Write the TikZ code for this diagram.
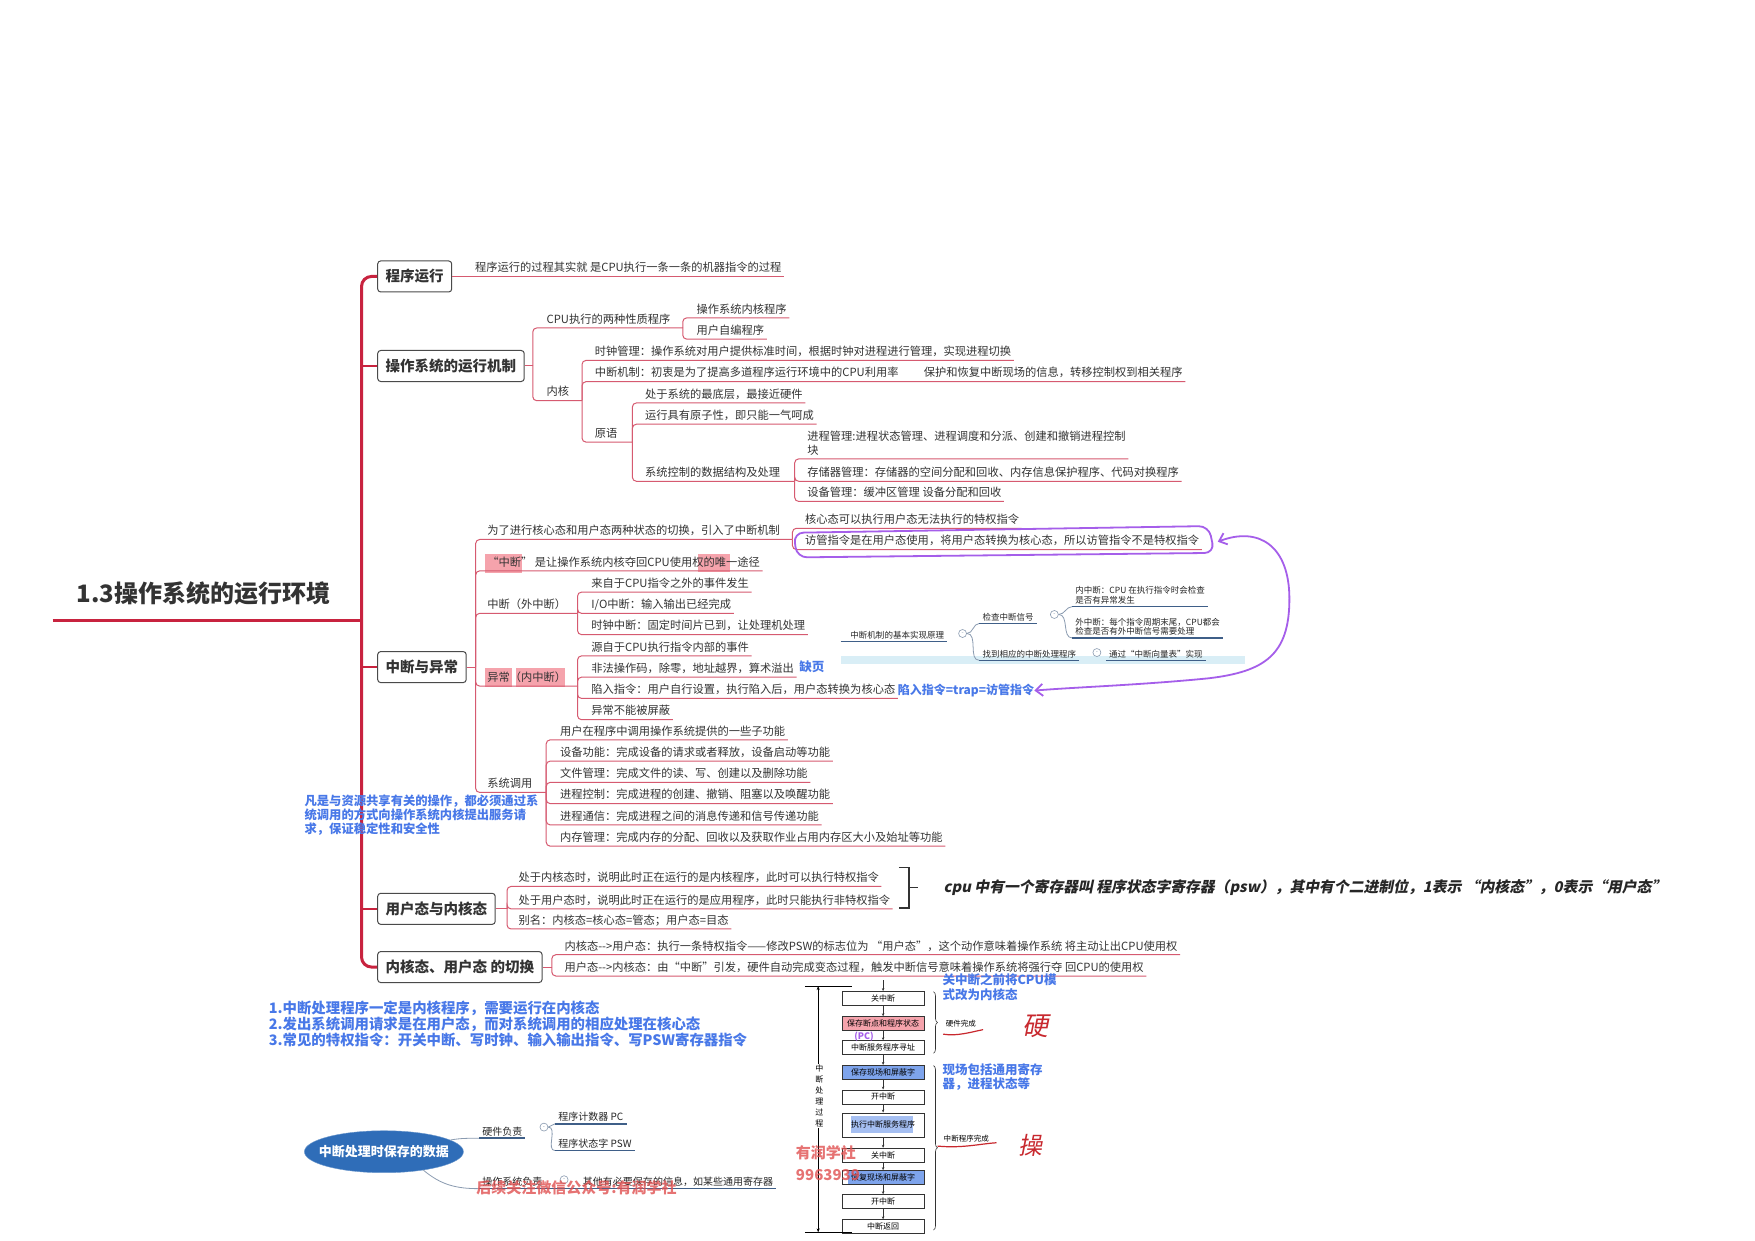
\documentclass[tikz,border=0pt]{standalone}
\usepackage{fontspec}
\setmainfont{Noto Sans CJK SC}
\newfontfamily\slantfont{Noto Sans CJK SC}[FakeSlant=0.2]
\usetikzlibrary{arrows.meta,shapes.geometric,decorations.pathreplacing}

\definecolor{spinered}{HTML}{C8233F}
\definecolor{twig}{HTML}{D65A70}
\definecolor{ink}{HTML}{333333}
\definecolor{boxline}{HTML}{4A4A4A}
\definecolor{noteblue}{HTML}{4878E8}
\definecolor{loopviolet}{HTML}{A55EEA}
\definecolor{hilite}{HTML}{F5A3AC}
\definecolor{xmline}{HTML}{3F5F88}
\definecolor{xmcurve}{HTML}{8A9BB0}
\definecolor{bubblefill}{HTML}{2F6DB8}
\definecolor{stampred}{HTML}{E05050}
\definecolor{handred}{HTML}{C8282E}
\definecolor{bluehl}{HTML}{7EA4EC}
\definecolor{cyanstrip}{HTML}{D9EEF6}

\begin{document}
\begin{tikzpicture}[x=1.119pt, y=-1.119pt, text=ink,
  topic/.style={draw=boxline, rounded corners=3pt, line width=1pt, minimum height=31pt,
    inner xsep=8pt, anchor=west, font=\fontsize{14.5}{16}\selectfont\bfseries},
  leaf/.style={anchor=south west, inner xsep=2.5pt, inner ysep=2.5pt, text depth=2pt,
    align=left, font=\fontsize{11.25}{13.5}\selectfont},
  trunk/.style={draw=spinered, line width=3pt},
  limb/.style={draw=spinered, line width=1.8pt},
  branch/.style={draw=twig, line width=1pt, rounded corners=4pt},
  note/.style={text=noteblue, inner sep=0pt, align=left, font=\fontsize{12.5}{14.5}\selectfont\bfseries},
  hl/.style={fill=hilite, draw=none},
  annot/.style={draw=loopviolet, line width=1.8pt, line cap=round, line join=round},
  xleaf/.style={anchor=south west, inner xsep=3pt, inner ysep=2pt, text depth=1pt, align=left,
    text=black!85, font=\fontsize{8.5}{9.5}\selectfont},
  xline/.style={draw=xmline, line width=1.6pt},
  xcurve/.style={draw=xmcurve, line width=.8pt},
  knob/.style={circle, draw=xmcurve, fill=white, line width=.6pt, minimum size=8pt, inner sep=0pt,
    text=xmcurve, font=\fontsize{6}{6}\selectfont},
  bubble/.style={ellipse, fill=bubblefill, draw=bubblefill!70, minimum width=159pt, minimum height=42pt,
    inner xsep=-9pt, inner ysep=0pt, text=white, font=\fontsize{13}{15}\selectfont\bfseries},
  flowbox/.style={draw=black!80, line width=.6pt, minimum width=82pt, minimum height=14pt, inner sep=0pt,
    text=black, font=\fontsize{8}{9}\selectfont},
  farrow/.style={-{Stealth[length=3pt,width=2.5pt]}, line width=.5pt, draw=black!80},
  brc/.style={decorate, decoration={brace, amplitude=4pt}, line width=.6pt, draw=black!80},
  stamp/.style={text=stampred, opacity=.8, align=left, font=\fontsize{15}{22}\selectfont\bfseries},
  handmark/.style={draw=handred, line width=1.2pt, line cap=round}
]
\useasboundingbox (0,0) rectangle (1568,1108);
\fill[white] (0,0) rectangle (1568,1108);

% root and main spine
\node[font=\fontsize{24}{26}\selectfont\bfseries] (root) at (182,530) {1.3操作系统的运行环境};
\coordinate (rootl) at (47,554);
\coordinate (hub) at (323,554);

\node[topic] (run) at (337,247) {程序运行};
\node[topic] (mech) at (337,327) {操作系统的运行机制};
\node[topic] (intr) at (337,596) {中断与异常};
\node[topic] (mode) at (337,812) {用户态与内核态};
\node[topic] (swit) at (337,864) {内核态、用户态 的切换};

\draw[trunk] (rootl) -- (hub);
\draw[trunk, rounded corners=10pt] (run.west) -| (hub) |- (swit.west);
\foreach \b in {mech,intr,mode}
  \draw[limb] (hub |- \b.west) -- (\b.west);

% program run
\node[leaf] (run1) at (422,247) {程序运行的过程其实就 是CPU执行一条一条的机器指令的过程};
\draw[branch] (run.east) -- (run1.south east);

% os mechanism
\coordinate (mechk) at (476,327);
\draw[branch] (mech.east) -- (mechk);
\node[leaf] (cpu) at (486,293) {CPU执行的两种性质程序};
\coordinate (cpuk) at (610,293);
\draw[branch] (mechk) |- (cpu.south west) -- (cpuk);
\node[leaf] (cpu1) at (620,284) {操作系统内核程序};
\node[leaf] (cpu2) at (620,303) {用户自编程序};
\foreach \n in {cpu1,cpu2}
  \draw[branch] (cpuk) |- (\n.south west) -- (\n.south east);

\node[leaf] (kern) at (486,358) {内核};
\coordinate (kernk) at (520,358);
\draw[branch] (mechk) |- (kern.south west) -- (kernk);
\node[leaf] (clk) at (529,322) {时钟管理：操作系统对用户提供标准时间，根据时钟对进程进行管理，实现进程切换};
\node[leaf] (irq) at (529,341) {中断机制：初衷是为了提高多道程序运行环境中的CPU利用率};
\node[leaf] (irq2) at (823,341) {保护和恢复中断现场的信息，转移控制权到相关程序};
\node[leaf] (prim) at (529,395) {原语};
\coordinate (primk) at (565,395);
\draw[branch] (kernk) |- (clk.south west) -- (clk.south east);
\draw[branch] (kernk) |- (irq.south west) -- (irq2.south east);
\draw[branch] (kernk) |- (prim.south west) -- (primk);

\node[leaf] (low) at (574,360) {处于系统的最底层，最接近硬件};
\node[leaf] (atom) at (574,379) {运行具有原子性，即只能一气呵成};
\node[leaf] (sysd) at (574,430) {系统控制的数据结构及处理};
\coordinate (sysk) at (710,430);
\foreach \n in {low,atom}
  \draw[branch] (primk) |- (\n.south west) -- (\n.south east);
\draw[branch] (primk) |- (sysd.south west) -- (sysk);

\node[leaf] (pm) at (719,410) {进程管理:进程状态管理、进程调度和分派、创建和撤销进程控制\\块};
\node[leaf] (mem) at (719,430) {存储器管理：存储器的空间分配和回收、内存信息保护程序、代码对换程序};
\node[leaf] (dev) at (719,448) {设备管理：缓冲区管理 设备分配和回收};
\foreach \n in {pm,mem,dev}
  \draw[branch] (sysk) |- (\n.south west) -- (\n.south east);

% interrupts and exceptions
\fill[hl] (433,495) rectangle (466,512);
\fill[hl] (624,495) rectangle (652,511);
\fill[hl] (433,597) rectangle (457,614);
\fill[hl] (461,597) rectangle (505,614);

\coordinate (intrk) at (425,596);
\draw[branch] (intr.east) -- (intrk);
\node[leaf] (sw) at (433,482) {为了进行核心态和用户态两种状态的切换，引入了中断机制};
\coordinate (swk) at (708,482);
\draw[branch] (intrk) |- (sw.south west) -- (swk);
\node[leaf] (priv) at (717,472) {核心态可以执行用户态无法执行的特权指令};
\node[leaf] (svc) at (717,491) {访管指令是在用户态使用，将用户态转换为核心态，所以访管指令不是特权指令};
\foreach \n in {priv,svc}
  \draw[branch] (swk) |- (\n.south west) -- (\n.south east);

\node[leaf] (only) at (433,510) {“中断” 是让操作系统内核夺回CPU使用权的唯一途径};
\draw[branch] (intrk) |- (only.south west) -- (only.south east);

\node[leaf] (ext) at (433,548) {中断（外中断）};
\coordinate (extk) at (516,548);
\draw[branch] (intrk) |- (ext.south west) -- (extk);
\foreach \y/\t [count=\i] in {529/{来自于CPU指令之外的事件发生},
    548/{I/O中断：输入输出已经完成},
    567/{时钟中断：固定时间片已到，让处理机处理}}{
  \node[leaf] (ext\i) at (526,\y) {\t};
  \draw[branch] (extk) |- (ext\i.south west) -- (ext\i.south east);
}

\node[leaf] (exc) at (433,613) {异常（内中断）};
\coordinate (exck) at (516,613);
\draw[branch] (intrk) |- (exc.south west) -- (exck);
\foreach \y/\t [count=\i] in {586/{源自于CPU执行指令内部的事件},
    605/{非法操作码，除零，地址越界，算术溢出},
    624/{陷入指令：用户自行设置，执行陷入后，用户态转换为核心态},
    643/{异常不能被屏蔽}}{
  \node[leaf] (exc\i) at (526,\y) {\t};
  \draw[branch] (exck) |- (exc\i.south west) -- (exc\i.south east);
}
\node[note, anchor=west] (miss) at (714,596) {缺页};
\node[note, anchor=west, font=\fontsize{12}{14}\selectfont\bfseries] (trap) at (802,617) {陷入指令=trap=访管指令};

\node[leaf] (sysc) at (433,708) {系统调用};
\coordinate (sysck) at (488,708);
\draw[branch] (intrk) |- (sysc.south west) -- (sysck);
\foreach \y/\t [count=\i] in {661/{用户在程序中调用操作系统提供的一些子功能},
    680/{设备功能：完成设备的请求或者释放，设备启动等功能},
    699/{文件管理：完成文件的读、写、创建以及删除功能},
    718/{进程控制：完成进程的创建、撤销、阻塞以及唤醒功能},
    737/{进程通信：完成进程之间的消息传递和信号传递功能},
    756/{内存管理：完成内存的分配、回收以及获取作业占用内存区大小及始址等功能}}{
  \node[leaf] (sc\i) at (498,\y) {\t};
  \draw[branch] (sysck) |- (sc\i.south west) -- (sc\i.south east);
}

% violet hand marks
\draw[annot, rounded corners=10pt] (709,476) -- (1080,470) -- (1085,494) -- (712,498) -- cycle;
\coordinate (loopend) at (1088,484);
\draw[annot, {Straight Barb[length=7pt,width=12pt]}-{Straight Barb[length=7pt,width=12pt]}]
  (loopend) .. controls (1125,470) and (1152,488) .. (1152,535)
  .. controls (1152,585) and (1130,600) .. (1080,606)
  .. controls (1020,612) and (960,614) .. (trap.east);

% interrupt mechanism inset
\fill[cyanstrip] (751,586) rectangle (1112,593);
\coordinate (im0) at (751,573);
\node[xleaf] (im) at (757,573) {中断机制的基本实现原理};
\draw[xline] (im0) -- (im.south east);
\node[knob] (k1) at (860,566) {-};
\node[xleaf] (chk) at (875,557) {检查中断信号};
\node[xleaf] (fnd) at (875,590) {找到相应的中断处理程序};
\foreach \n in {chk,fnd}{
  \draw[xcurve] (k1.east) to[out=0,in=180] (\n.south west);
  \draw[xline] (\n.south west) -- (\n.south east);
}
\node[knob] (k2) at (942,549) {-};
\node[xleaf] (inn) at (958,542) {内中断：CPU 在执行指令时会检查\\是否有异常发生};
\node[xleaf] (outr) at (958,570) {外中断：每个指令周期末尾，CPU都会\\检查是否有外中断信号需要处理};
\foreach \n in {inn,outr}{
  \draw[xcurve] (k2.east) to[out=0,in=180] (\n.south west);
  \draw[xline] (\n.south west) -- (\n.south east);
}
\node[knob] (k3) at (980,583) {-};
\node[xleaf] (vec) at (988,590) {通过“中断向量表”实现};
\draw[xline] (vec.south west) -- (vec.south east);

% left blue note
\node[note, anchor=north west, font=\fontsize{12.3}{14}\selectfont\bfseries] (share) at (272,710)
  {凡是与资源共享有关的操作，都必须通过系\\统调用的方式向操作系统内核提出服务请\\求，保证稳定性和安全性};

% user mode / kernel mode
\coordinate (modek) at (453,812);
\draw[branch] (mode.east) -- (modek);
\foreach \y/\t [count=\i] in {792/{处于内核态时，说明此时正在运行的是内核程序，此时可以执行特权指令},
    812/{处于用户态时，说明此时正在运行的是应用程序，此时只能执行非特权指令},
    830/{别名：内核态=核心态=管态；用户态=目态}}{
  \node[leaf] (md\i) at (461,\y) {\t};
  \draw[branch] (modek) |- (md\i.south west) -- (md\i.south east);
}
\draw[line width=1.6pt, draw=ink] (803,775) -| (812,811) -- (803,811);
\coordinate (pswk) at (812,793);
\node[anchor=west, font=\slantfont\fontsize{14.8}{16}\selectfont\bfseries, text=black!85] (pswnote) at (840,793)
  {cpu 中有一个寄存器叫 程序状态字寄存器（psw），其中有个二进制位，1表示 “内核态”，0表示“用户态”};
\draw[line width=1.6pt, draw=ink] (pswk) -- ++(8,0);

% switching
\coordinate (switk) at (493,864);
\draw[branch] (swit.east) -- (switk);
\foreach \y/\t [count=\i] in {853/{内核态-{}-{}>用户态：执行一条特权指令——修改PSW的标志位为 “用户态”，这个动作意味着操作系统 将主动让出CPU使用权},
    872/{用户态-{}-{}>内核态：由“中断”引发，硬件自动完成变态过程，触发中断信号意味着操作系统将强行夺 回CPU的使用权}}{
  \node[leaf] (sk\i) at (502,\y) {\t};
  \draw[branch] (switk) |- (sk\i.south west) -- (sk\i.south east);
}

% bottom blue notes
\node[note, anchor=north west, font=\fontsize{14.4}{16}\selectfont\bfseries] (tips) at (240,894)
  {1.中断处理程序一定是内核程序，需要运行在内核态\\2.发出系统调用请求是在用户态，而对系统调用的相应处理在核心态\\3.常见的特权指令：开关中断、写时钟、输入输出指令、写PSW寄存器指令};

% saved data inset
\node[bubble] (keep) at (343,1029) {中断处理时保存的数据};
\node[xleaf, font=\fontsize{10}{11}\selectfont] (hw) at (428,1017) {硬件负责};
\draw[xcurve] (keep.10) to[out=10,in=180] (hw.south west);
\draw[xline] (hw.south west) -- (hw.south east);
\node[knob] (k4) at (486,1007) {-};
\node[xleaf, font=\fontsize{10}{11}\selectfont] (pc) at (496,1004) {程序计数器 PC};
\node[xleaf, font=\fontsize{10}{11}\selectfont] (pswd) at (496,1028) {程序状态字 PSW};
\foreach \n in {pc,pswd}{
  \draw[xcurve] (k4.east) to[out=0,in=180] (\n.south west);
  \draw[xline] (\n.south west) -- (\n.south east);
}
\node[xleaf, font=\fontsize{10}{11}\selectfont] (os) at (428,1062) {操作系统负责};
\draw[xcurve] (keep.-25) to[out=-40,in=180] (os.south west);
\node[knob] (k5) at (504,1054) {-};
\node[xleaf, font=\fontsize{10}{11}\selectfont] (etc) at (518,1062) {其他有必要保存的信息，如某些通用寄存器};
\draw[xline] (os.south west) -- (etc.south east);
\node[stamp] (wm1) at (515,1061) {后续关注微信公众号:有润学社};

% interrupt handling flow
\fill[hilite] (752,908) rectangle (826,921);
\fill[bluehl] (752,952) rectangle (826,964);
\fill[bluehl!70] (760,997) rectangle (816,1012);
\fill[bluehl] (758,1046) rectangle (826,1058);
\foreach \n/\y/\t in {f1/892/关中断, f2/914.5/保存断点和程序状态, f3/936/中断服务程序寻址,
    f4/958/保存现场和屏蔽字, f5/980/开中断, f7/1032/关中断, f8/1052/恢复现场和屏蔽字,
    f9/1073.5/开中断, f10/1096/中断返回}
  \node[flowbox] (\n) at (789,\y) {\t};
\node[flowbox, minimum height=24pt] (f6) at (789,1005) {执行中断服务程序};
\coordinate (ftop) at (789,876);
\draw[farrow] (ftop) -- (f1);
\foreach \a/\b in {f1/f2,f2/f3,f3/f4,f4/f5,f5/f6,f6/f7,f7/f8,f8/f9,f9/f10}
  \draw[farrow] (\a) -- (\b);
\coordinate (lt) at (731,881);
\coordinate (lb) at (731,1101);
\draw[{Stealth[length=4pt,width=3pt]}-{Stealth[length=4pt,width=3pt]}, line width=.5pt] (lt) -- (lb);
\draw[line width=.5pt] (719,881) -- (761,881) (719,1101) -- (761,1101);
\node[fill=white, inner sep=1pt, align=center, text=black, font=\fontsize{8}{11}\selectfont] (proc) at (732,979)
  {中\\断\\处\\理\\过\\程};
\draw[brc] (834,886) -- (834,941);
\draw[brc] (834,952) -- (834,1099);
\node[anchor=west, inner sep=0pt, text=black, font=\fontsize{7.5}{8}\selectfont] (hwdone) at (845,915) {硬件完成};
\node[anchor=west, inner sep=0pt, text=black, font=\fontsize{7.5}{8}\selectfont] (swdone) at (843,1017) {中断程序完成};
\draw[handmark] (843,924) .. controls (855,926) and (868,922) .. (878,920);
\draw[handmark] (838,1024) .. controls (860,1026) and (875,1022) .. (890,1021);
\node[text=handred, font=\slantfont\fontsize{26}{26}\selectfont] (hy) at (925,917) {硬};
\node[text=handred, font=\slantfont\fontsize{24}{24}\selectfont] (hc) at (921,1023) {操};
\node[text=loopviolet, font=\fontsize{9}{9}\selectfont\bfseries] (pcn) at (772,926) {(PC)};
\node[note, anchor=north west] (cpumode) at (842,870) {关中断之前将CPU模\\式改为内核态};
\node[note, anchor=north west] (scene) at (842,950) {现场包括通用寄存\\器，进程状态等};
\node[stamp, anchor=west] (wm2) at (708,1039) {有润学社\\9963939};
\end{tikzpicture}
\end{document}
